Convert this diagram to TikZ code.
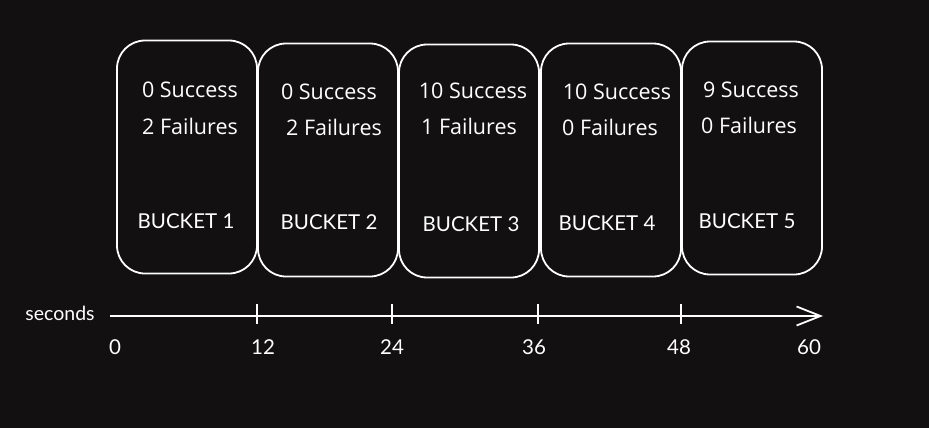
\documentclass[tikz,border=0pt]{standalone}
\usepackage{fontspec}
\setmainfont{Lato}
\newfontfamily\handfont{Open Sans}
\usetikzlibrary{arrows.meta}
\definecolor{bgdark}{RGB}{18,16,17}

\begin{document}
\begin{tikzpicture}[x=1pt,y=-1pt,
  bucket/.style={draw=white,line width=1.8pt,rounded corners=28pt,fill=bgdark,inner sep=0pt,minimum width=140pt,minimum height=233pt},
  tally/.style={text=white,font=\handfont\fontsize{21.5}{25}\selectfont},
  tag/.style={text=white,font=\fontsize{20.5}{24}\selectfont},
  tick/.style={draw=white,line width=1.8pt}]
\fill[bgdark] (0,0) rectangle (929,428);
% buckets
\node[bucket] (b1) at (187,157) {};
\node[bucket] (b2) at (328,160) {};
\node[bucket] (b3) at (469,161) {};
\node[bucket] (b4) at (611,160) {};
\node[bucket] (b5) at (752,158) {};
% counts
\node[tally] (s1) at (190,90) {0 Success};
\node[tally] (f1) at (190,126) {2 Failures};
\node[tally] (s2) at (329,92) {0 Success};
\node[tally] (f2) at (334,127) {2 Failures};
\node[tally] (s3) at (473,91) {10 Success};
\node[tally] (f3) at (469,126) {1 Failures};
\node[tally] (s4) at (617,92) {10 Success};
\node[tally] (f4) at (610,127) {0 Failures};
\node[tally] (s5) at (751,90) {9 Success};
\node[tally] (f5) at (749,125) {0 Failures};
\node[tag] (n1) at (186,221) {BUCKET 1};
\node[tag] (n2) at (329,222) {BUCKET 2};
\node[tag] (n3) at (471,224) {BUCKET 3};
\node[tag] (n4) at (607,223) {BUCKET 4};
\node[tag] (n5) at (747,221) {BUCKET 5};
% time axis
\coordinate (t0) at (110,316);
\coordinate (t60) at (823,316);
\draw[tick,-{Straight Barb[length=24pt,width=19pt]}] (t0) -- (t60);
\foreach \x in {257,392,538,681} \draw[tick] (\x,304) -- (\x,324);
\node[tag,font=\fontsize{19.5}{23}\selectfont] (sec) at (60,313) {seconds};
\foreach \x/\n in {115/0,263/12,392/24,534/36,679/48,809/60} \node[tag] (l\n) at (\x,347) {\n};
\end{tikzpicture}
\end{document}
